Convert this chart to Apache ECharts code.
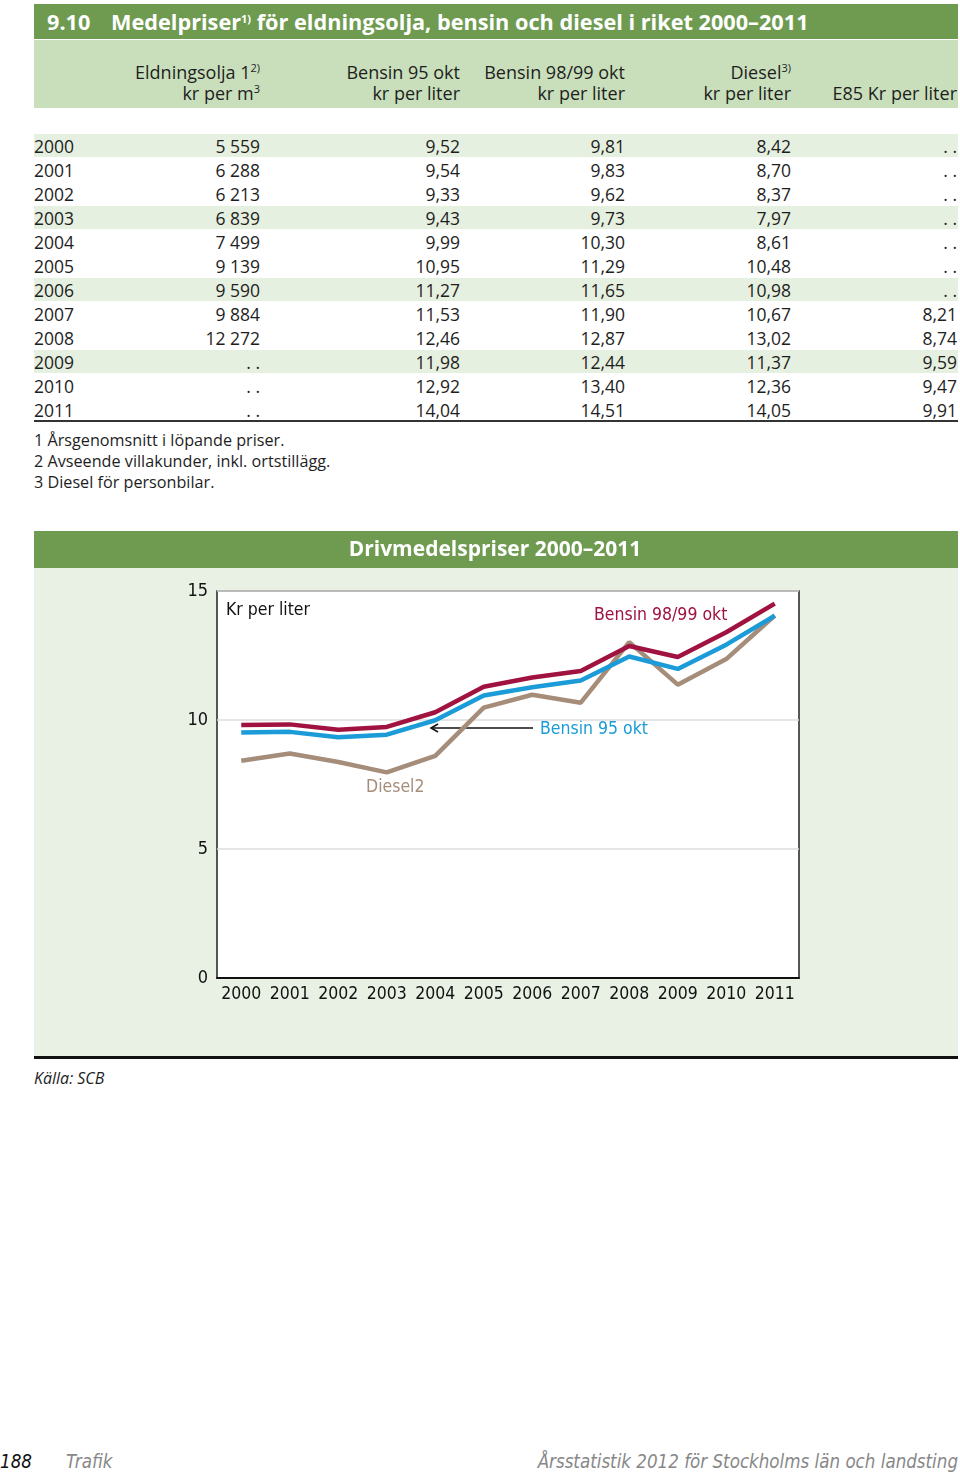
<!DOCTYPE html>
<html><head><meta charset="utf-8">
<script src="https://cdn.jsdelivr.net/npm/echarts@6/dist/echarts.min.js"></script>
<style>
body{margin:0;width:960px;height:1477px;background:#fff;position:relative;font-family:"Open Sans","Noto Sans",sans-serif;color:#1e1e1e;overflow:hidden}
.a{position:absolute;white-space:nowrap}
#titlebar{left:34px;top:4px;width:924px;height:35px;background:#6e9b50;color:#fff;font-weight:bold;font-size:21.7px;line-height:35px}
#hdr{left:34px;top:40px;width:924px;height:68px;background:#c9dfbb}
.hc{font-size:18px;line-height:21px;text-align:right}
.cell{font-size:17.5px;line-height:24px}
sup{font-size:11px;line-height:0;vertical-align:7px}
.fn{font-size:16.2px;line-height:21px;left:34px}
#chart{left:34px;top:531px;width:924px;height:526px}
.ft{font-family:"DejaVu Sans Condensed",sans-serif;font-style:italic;font-size:18.6px;line-height:24px}
</style></head>
<body>
<div id="titlebar" class="a"><span class="a" style="left:13px">9.10</span><span class="a" style="left:77px">Medelpriser<sup>1)</sup> för eldningsolja, bensin och diesel i riket 2000–2011</span></div>
<div id="hdr" class="a"></div>
<div id="table"></div>
<div class="a" style="left:34px;top:420px;width:924px;height:2px;background:#333"></div>
<div class="a fn" style="top:430px">1 Årsgenomsnitt i löpande priser.</div>
<div class="a fn" style="top:451px">2 Avseende villakunder, inkl. ortstillägg.</div>
<div class="a fn" style="top:472px">3 Diesel för personbilar.</div>
<div id="chart" class="a"></div>
<div class="a" style="left:34px;top:1056px;width:924px;height:3px;background:#111"></div>
<div class="a" style="left:34px;top:1067px;font-size:16px;font-style:italic;line-height:22px">Källa: SCB</div>
<div class="a ft" style="left:0;top:1450px;color:#111">188</div>
<div class="a ft" style="left:66px;top:1450px;color:#888">Trafik</div>
<div class="a ft" style="right:2px;top:1450px;color:#888">Årsstatistik 2012 för Stockholms län och landsting</div>
<script>
// ---- data ----
const years = ['2000','2001','2002','2003','2004','2005','2006','2007','2008','2009','2010','2011'];
const eldningsolja = [5559, 6288, 6213, 6839, 7499, 9139, 9590, 9884, 12272, null, null, null];
const bensin95 = [9.52, 9.54, 9.33, 9.43, 9.99, 10.95, 11.27, 11.53, 12.46, 11.98, 12.92, 14.04];
const bensin98 = [9.81, 9.83, 9.62, 9.73, 10.30, 11.29, 11.65, 11.90, 12.87, 12.44, 13.40, 14.51];
const diesel = [8.42, 8.70, 8.37, 7.97, 8.61, 10.48, 10.98, 10.67, 13.02, 11.37, 12.36, 14.05];
const e85 = [null, null, null, null, null, null, null, 8.21, 8.74, 9.59, 9.47, 9.91];
const headerLine1 = ['Eldningsolja 1<sup>2)</sup>', 'Bensin 95 okt', 'Bensin 98/99 okt', 'Diesel<sup>3)</sup>', ''];
const headerLine2 = ['kr per m<sup>3</sup>', 'kr per liter', 'kr per liter', 'kr per liter', 'E85 Kr per liter'];
const yTicks = [0, 5, 10, 15];

// ---- table ----
const colRight = [260, 460, 625, 791, 957];
const tbl = document.getElementById('table');
function fmtInt(v){ if(v==null) return '. .'; return String(v).replace(/\B(?=(\d{3})+(?!\d))/g,' '); }
function fmtDec(v){ if(v==null) return '. .'; return v.toFixed(2).replace('.',','); }
let html='';
headerLine1.forEach((t,i)=>{ html+=`<div class="a hc" style="right:${960-colRight[i]}px;top:62px">${t}</div>`; });
headerLine2.forEach((t,i)=>{ html+=`<div class="a hc" style="right:${960-colRight[i]}px;top:83px">${t}</div>`; });
years.forEach((y,i)=>{
  const top = 134 + 24*i;
  if(i%3===0) html+=`<div class="a" style="left:34px;top:${top}px;width:924px;height:23px;background:#e6f0e0"></div>`;
  const cols=[fmtInt(eldningsolja[i]),fmtDec(bensin95[i]),fmtDec(bensin98[i]),fmtDec(diesel[i]),fmtDec(e85[i])];
  html+=`<div class="a cell" style="left:34px;top:${top}px">${y}</div>`;
  cols.forEach((c,j)=>{ html+=`<div class="a cell" style="right:${960-colRight[j]}px;top:${top}px">${c}</div>`; });
});
tbl.innerHTML=html;

// ---- chart ----
const FF = '"DejaVu Sans Condensed","Open Sans",sans-serif';
const chart = echarts.init(document.getElementById('chart'), null, {renderer:'canvas'});
chart.setOption({
  backgroundColor:'#e8f1e4',
  animation:false,
  grid:{left:183, top:60, width:582, height:387, show:true, backgroundColor:'#fff', borderColor:'#222', borderWidth:1.5},
  xAxis:{type:'category', data:years, boundaryGap:true,
    axisTick:{alignWithLabel:true, inside:true, length:10, interval:0, lineStyle:{color:'#ccc', width:1.5}},
    axisLine:{lineStyle:{color:'#111', width:2}},
    axisLabel:{color:'#111', fontSize:17.5, fontFamily:FF, margin:7, interval:0}},
  yAxis:{type:'value', min:yTicks[0], max:yTicks[yTicks.length-1], interval:5,
    axisLine:{show:false}, axisTick:{show:false},
    splitLine:{lineStyle:{color:'#ddd', width:1.5}},
    axisLabel:{color:'#111', fontSize:18, fontFamily:FF, margin:9}},
  series:[
    {name:'Diesel', type:'line', data:diesel, symbol:'none', lineStyle:{color:'#a58d7a', width:4.5}},
    {name:'Bensin 95 okt', type:'line', data:bensin95, symbol:'none', lineStyle:{color:'#1b9bd7', width:4.5}},
    {name:'Bensin 98/99 okt', type:'line', data:bensin98, symbol:'none', lineStyle:{color:'#a0123f', width:4.5}}
  ],
  graphic:[
    {type:'rect', left:0, top:0, shape:{width:924, height:37}, style:{fill:'#6e9b50'}, z:-1},
    {type:'text', x:461, y:19, style:{text:'Drivmedelspriser 2000–2011', fill:'#fff', font:'bold 21px "Open Sans","Noto Sans",sans-serif', textAlign:'center', textVerticalAlign:'middle'}},
    {type:'text', x:192, y:79, style:{text:'Kr per liter', fill:'#111', font:'17.5px '+FF, textVerticalAlign:'middle'}},
    {type:'text', x:560, y:84, style:{text:'Bensin 98/99 okt', fill:'#a0123f', font:'17.5px '+FF, textVerticalAlign:'middle'}},
    {type:'text', x:506, y:198, style:{text:'Bensin 95 okt', fill:'#1b9bd7', font:'17.5px '+FF, textVerticalAlign:'middle'}},
    {type:'text', x:332, y:256, style:{text:'Diesel2', fill:'#a58d7a', font:'17.5px '+FF, textVerticalAlign:'middle'}},
    {type:'line', shape:{x1:499, y1:197, x2:397, y2:197}, style:{stroke:'#111', lineWidth:1.3}},
    {type:'polyline', shape:{points:[[404,193],[397,197],[404,201]]}, style:{stroke:'#111', lineWidth:1.5, fill:null}}
  ]
});
</script>
</body></html>
